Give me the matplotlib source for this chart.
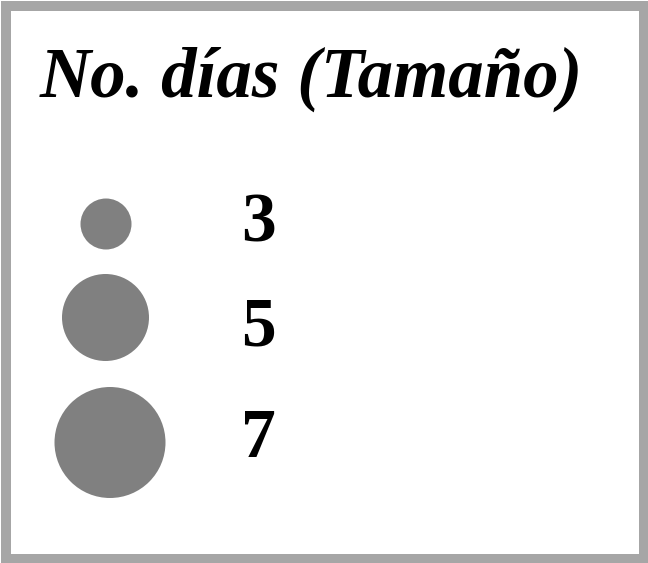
import matplotlib.pyplot as plt
from matplotlib.patches import Rectangle

# legend content
title = "No. días (Tamaño)"
dias = [3, 5, 7]

# layout (pixel units, y down)
W, H = 648, 563
circle_x = [106, 105.5, 110]
circle_y = [224, 317.5, 442.5]
circle_d = [51, 87, 111]          # marker diameters in px
label_x = 241
label_base = [242, 345, 457]

fig = plt.figure(figsize=(W / 100, H / 100), dpi=100)
ax = fig.add_axes([0, 0, 1, 1])
ax.set_xlim(0, W)
ax.set_ylim(H, 0)
ax.axis("off")

# grey frame
ax.add_patch(Rectangle((6, 6), 637.5, 553, fill=False,
                       edgecolor="#a6a6a6", linewidth=7.2))

ax.text(311.5, 97, title, ha="center", va="baseline",
        fontfamily="Liberation Serif", fontweight="bold",
        fontstyle="italic", fontsize=51)

sizes = [(d * 0.72) ** 2 for d in circle_d]
ax.scatter(circle_x, circle_y, s=sizes, color="#808080",
           edgecolors="none")

for v, yb in zip(dias, label_base):
    ax.text(label_x, yb, str(v), ha="left", va="baseline",
            fontfamily="Liberation Serif", fontweight="bold",
            fontsize=50)

plt.savefig("out.png", dpi=100)
